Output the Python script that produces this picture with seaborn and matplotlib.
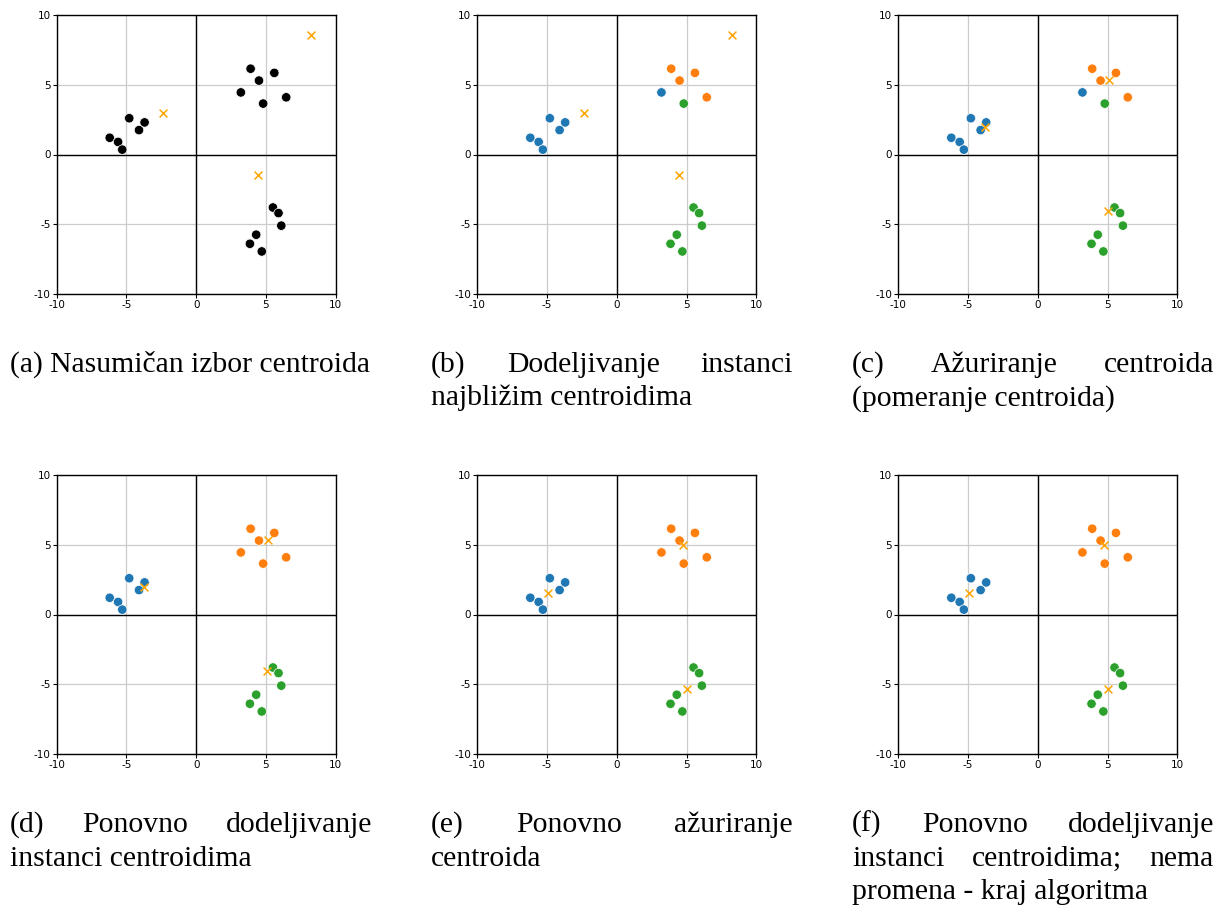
import matplotlib
matplotlib.use("Agg")
import matplotlib.pyplot as plt
import seaborn as sns
import pandas as pd

sns.set_style("white")
plt.rcParams["axes.unicode_minus"] = False
plt.rcParams["font.family"] = ["DejaVu Sans"]

# ---- data ----
point_x = [-6.2, -5.6, -5.3, -4.8, -4.1, -3.7,
           3.9, 5.6, 4.5, 3.2, 4.8, 6.45,
           5.5, 5.9, 6.1, 4.3, 3.85, 4.7]
point_y = [1.2, 0.9, 0.35, 2.6, 1.75, 2.3,
           6.15, 5.85, 5.3, 4.45, 3.65, 4.1,
           -3.8, -4.2, -5.1, -5.75, -6.4, -6.95]

assign_a = ["n", "n", "n", "n", "n", "n", "n", "n", "n",
            "n", "n", "n", "n", "n", "n", "n", "n", "n"]
assign_b = ["0", "0", "0", "0", "0", "0", "1", "1", "1",
            "0", "2", "1", "2", "2", "2", "2", "2", "2"]
assign_d = ["0", "0", "0", "0", "0", "0", "1", "1", "1",
            "1", "1", "1", "2", "2", "2", "2", "2", "2"]

cent_a_x = [-2.35, 8.25, 4.45]
cent_a_y = [2.95, 8.6, -1.5]
cent_c_x = [-3.75, 5.13, 5.04]
cent_c_y = [1.95, 5.35, -4.07]
cent_e_x = [-4.95, 4.74, 5.06]
cent_e_y = [1.52, 4.95, -5.37]

ticks = [-10, -5, 0, 5, 10]
tick_labels = ["-10", "-5", "0", "5", "10"]

captions = [
    [("(a) Nasumičan izbor centroida", False)],
    [("(b) Dodeljivanje instanci", True), ("najbližim centroidima", False)],
    [("(c) Ažuriranje centroida", True), ("(pomeranje centroida)", False)],
    [("(d) Ponovno dodeljivanje", True), ("instanci centroidima", False)],
    [("(e) Ponovno ažuriranje", True), ("centroida", False)],
    [("(f) Ponovno dodeljivanje", True), ("instanci centroidima; nema", True),
     ("promena - kraj algoritma", False)],
]

panels = [
    (assign_a, cent_a_x, cent_a_y),
    (assign_b, cent_a_x, cent_a_y),
    (assign_b, cent_c_x, cent_c_y),
    (assign_d, cent_c_x, cent_c_y),
    (assign_d, cent_e_x, cent_e_y),
    (assign_d, cent_e_x, cent_e_y),
]

palette = {"n": "black", "0": "#1f77b4", "1": "#ff7f0e", "2": "#2ca02c"}

W, H = 1217, 914
fig = plt.figure(figsize=(W / 100, H / 100), dpi=100)

ax_left = [56.7, 477.3, 898.3]
ax_top = [15, 475]
ax_size = 279
col_left = [10, 431, 852]
col_width = 362
cap_base = [372, 832]
line_gap = 33.5

for i, (assign, cx, cy) in enumerate(panels):
    r, c = divmod(i, 3)
    ax = fig.add_axes([ax_left[c] / W, 1 - (ax_top[r] + ax_size) / H,
                       ax_size / W, ax_size / H])
    ax.grid(True, color="#cccccc", linewidth=0.9, zorder=0)
    ax.axhline(0, color="black", linewidth=1.0, zorder=1)
    ax.axvline(0, color="black", linewidth=1.0, zorder=1)
    df = pd.DataFrame({"x": point_x, "y": point_y, "k": assign})
    sns.scatterplot(data=df, x="x", y="y", hue="k", palette=palette,
                    s=46, edgecolor="white", linewidth=0.5, legend=False,
                    ax=ax, zorder=3)
    cdf = pd.DataFrame({"x": cx, "y": cy})
    sns.scatterplot(data=cdf, x="x", y="y", marker="x", color="orange",
                    s=32, linewidth=1.1, ax=ax, zorder=4)
    ax.set_xlim(-10, 10)
    ax.set_ylim(-10, 10)
    ax.set_xticks(ticks)
    ax.set_xticklabels(tick_labels)
    ax.set_yticks(ticks)
    ax.set_yticklabels(tick_labels)
    ax.set_xlabel("")
    ax.set_ylabel("")
    ax.tick_params(axis="both", labelsize=7.5, length=3, width=0.8, pad=1.5,
                   bottom=True, left=True, direction="out", colors="black")
    for sp in ax.spines.values():
        sp.set_color("black")
        sp.set_linewidth(1.0)

# ---- captions (justified like the source document) ----
cap_font = dict(family=["Liberation Serif", "DejaVu Serif"], size=21.3,
                color="black")
fig.canvas.draw()
renderer = fig.canvas.get_renderer()
for i, lines in enumerate(captions):
    r, c = divmod(i, 3)
    x0 = col_left[c]
    for j, (line, justify) in enumerate(lines):
        ybase = cap_base[r] + j * line_gap
        yf = 1 - ybase / H
        if not justify:
            fig.text(x0 / W, yf, line, ha="left", va="baseline", **cap_font)
            continue
        words = line.split(" ")
        texts = [fig.text(0, yf, w, ha="left", va="baseline", **cap_font)
                 for w in words]
        widths = [t.get_window_extent(renderer).width for t in texts]
        gap = (col_width - sum(widths)) / (len(words) - 1)
        xpos = x0
        for t, wdt in zip(texts, widths):
            t.set_x(xpos / W)
            xpos += wdt + gap

fig.savefig("out.png", dpi=100)
